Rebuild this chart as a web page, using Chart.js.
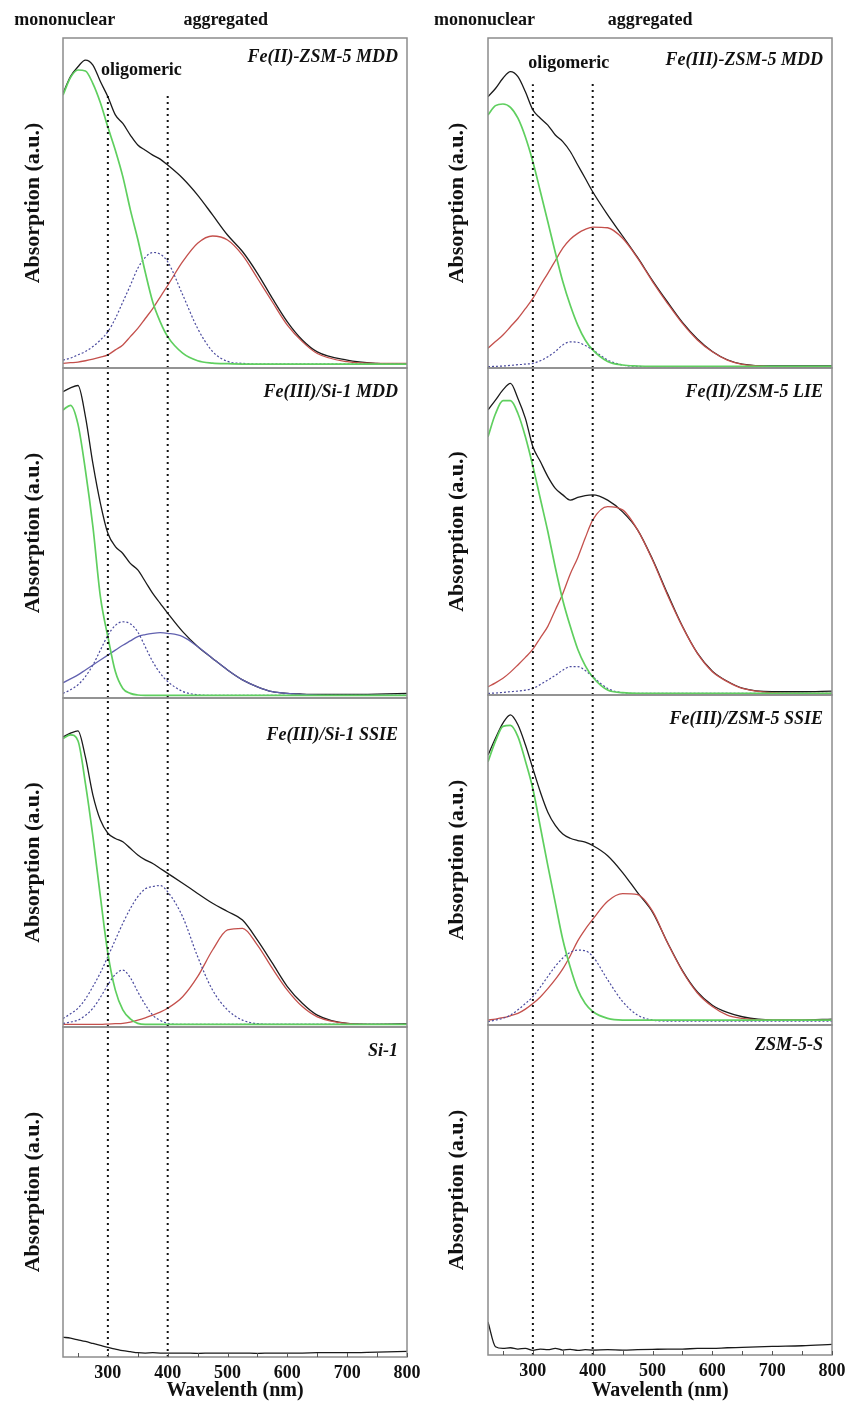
<!DOCTYPE html>
<html>
<head>
<meta charset="utf-8">
<script src="https://cdn.jsdelivr.net/npm/chart.js@4.4.0/dist/chart.umd.min.js"></script>
<style>
  html, body { margin: 0; padding: 0; background: #fff; }
  #wrap { position: relative; width: 848px; height: 1407px; }
  canvas { position: absolute; top: 0; pointer-events: none; }
</style>
</head>
<body>
<div id="wrap"></div>
<script>
// wavelength grid (nm) shared by every spectrum
const WL = [225, 237.5, 250, 262.5, 275, 287.5, 300, 312.5, 325, 337.5, 350, 362.5, 375, 387.5, 400,
            425, 450, 475, 500, 525, 550, 575, 600, 625, 650, 700, 750, 800];
const TICK_MARKS = [250, 300, 350, 400, 450, 500, 550, 600, 650, 700, 750, 800];
const GUIDES = [300, 400];

// Fe(II)-ZSM-5 MDD
const L1_BLACK = [.832,.883,.913,.933,.918,.868,.822,.767,.741,.706,.676,.66,.645,.633,.615,.575,.524,.464,.403,.353,.287,.211,.14,.085,.049,.024,.014,.011];
const L1_GREEN = [.827,.88,.903,.9,.862,.804,.73,.66,.58,.48,.39,.29,.2,.14,.095,.045,.022,.015,.013,.012,.012,.012,.012,.012,.012,.012,.012,.012];
const L1_BLUE  = [.024,.03,.04,.05,.065,.085,.11,.15,.2,.25,.302,.335,.35,.345,.322,.222,.12,.05,.02,.014,.012,.012,.012,.012,.012,.012,.012,.012];
const L1_RED   = [.014,.016,.018,.022,.027,.033,.04,.055,.07,.095,.12,.15,.18,.215,.25,.322,.378,.4,.388,.342,.272,.2,.13,.08,.044,.019,.014,.014];

// Fe(III)-ZSM-5 MDD
const R1_BLACK = [.822,.847,.878,.898,.883,.837,.782,.757,.736,.706,.686,.656,.615,.575,.534,.464,.40,.335,.265,.2,.138,.088,.05,.025,.012,.006,.006,.006];
const R1_GREEN = [.767,.795,.8,.79,.757,.7,.625,.535,.443,.35,.262,.19,.13,.085,.055,.02,.009,.006,.005,.005,.005,.005,.005,.005,.005,.005,.005,.005];
const R1_BLUE  = [.004,.005,.006,.008,.01,.012,.014,.022,.034,.05,.07,.079,.078,.068,.055,.024,.009,.005,.004,.004,.004,.004,.004,.004,.004,.004,.004,.004];
const R1_RED   = [.06,.08,.1,.125,.15,.18,.211,.25,.287,.325,.363,.39,.408,.42,.427,.425,.393,.333,.262,.196,.135,.085,.049,.024,.011,.004,.003,.003];

// Fe(III)/Si-1 MDD
const L2_BLACK = [.928,.94,.947,.853,.71,.59,.499,.459,.438,.408,.388,.353,.317,.287,.257,.201,.156,.12,.085,.055,.034,.019,.014,.012,.011,.011,.012,.014];
const L2_GREEN = [.873,.887,.83,.69,.519,.307,.186,.08,.029,.014,.009,.008,.008,.008,.008,.008,.008,.008,.008,.008,.008,.008,.008,.008,.008,.008,.008,.008];
const L2_BLUE_N = [.014,.025,.04,.065,.1,.145,.19,.22,.231,.225,.2,.155,.11,.075,.05,.02,.01,.008,.008,.008,.008,.008,.008,.008,.008,.008,.008,.008];
const L2_BLUE_B = [.046,.058,.07,.085,.1,.115,.13,.145,.16,.173,.186,.192,.196,.198,.196,.186,.156,.12,.085,.055,.034,.019,.014,.011,.009,.008,.008,.008];

// Fe(II)/ZSM-5 LIE
const R2_BLACK = [.872,.902,.933,.953,.907,.846,.759,.714,.668,.632,.612,.596,.604,.61,.612,.596,.56,.505,.415,.31,.21,.128,.073,.042,.021,.01,.01,.012];
const R2_GREEN = [.79,.86,.9,.9,.861,.79,.70,.6,.5,.39,.29,.21,.14,.09,.055,.015,.007,.005,.005,.005,.005,.005,.005,.005,.005,.005,.005,.005];
const R2_BLUE  = [.005,.006,.008,.01,.012,.015,.02,.032,.046,.06,.076,.087,.087,.075,.056,.02,.007,.005,.005,.005,.005,.005,.005,.005,.005,.005,.005,.005];
const R2_RED   = [.025,.037,.051,.07,.092,.115,.14,.175,.21,.26,.31,.37,.42,.48,.535,.576,.566,.505,.413,.306,.209,.127,.071,.041,.02,.007,.005,.005];

// Fe(III)/Si-1 SSIE
const L3_BLACK = [.882,.893,.9,.82,.705,.629,.589,.573,.563,.543,.523,.508,.497,.482,.467,.437,.406,.376,.351,.325,.264,.194,.123,.072,.036,.011,.008,.01];
const L3_GREEN = [.877,.888,.87,.74,.579,.396,.224,.112,.052,.025,.011,.008,.008,.008,.008,.008,.008,.008,.008,.008,.008,.008,.008,.008,.008,.008,.008,.008];
const L3_BLUE_L = [.026,.04,.057,.085,.123,.165,.214,.265,.315,.36,.396,.42,.427,.43,.411,.335,.214,.112,.052,.021,.01,.008,.008,.008,.008,.008,.008,.008];
const L3_BLUE_S = [.011,.015,.021,.035,.057,.09,.128,.16,.173,.15,.107,.068,.036,.02,.011,.008,.008,.008,.008,.008,.008,.008,.008,.008,.008,.008,.008,.008];
const L3_RED   = [.008,.008,.008,.008,.008,.008,.009,.01,.011,.015,.021,.028,.036,.045,.057,.092,.153,.234,.295,.3,.249,.178,.112,.062,.031,.011,.008,.008];

// Fe(III)/ZSM-5 SSIE
const R3_BLACK = [.818,.869,.915,.94,.91,.849,.777,.706,.645,.605,.579,.566,.559,.554,.544,.513,.462,.401,.342,.25,.165,.1,.06,.038,.025,.015,.015,.018];
const R3_GREEN = [.798,.86,.905,.908,.874,.8,.716,.6,.483,.37,.259,.175,.107,.065,.041,.02,.015,.015,.015,.015,.015,.015,.015,.015,.015,.015,.015,.015];
const R3_BLUE  = [.01,.015,.02,.03,.046,.065,.086,.115,.147,.178,.203,.22,.227,.225,.208,.137,.071,.03,.015,.012,.012,.012,.012,.012,.012,.012,.012,.012];
const R3_RED   = [.015,.018,.022,.028,.035,.048,.065,.085,.11,.138,.17,.21,.255,.29,.32,.375,.398,.395,.345,.249,.163,.097,.056,.03,.02,.015,.015,.015];

// Si-1 and ZSM-5-S (supports only)
const L4_BLACK = [.06,.057,.052,.047,.041,.035,.029,.024,.019,.016,.013,.012,.013,.012,.012,.012,.011,.012,.012,.012,.011,.012,.012,.012,.013,.013,.015,.017];
const R4_BLACK = [.10,.025,.02,.022,.018,.02,.014,.018,.016,.02,.015,.017,.014,.016,.015,.016,.015,.016,.017,.018,.018,.02,.02,.022,.023,.026,.028,.032];

const FONT = '"Liberation Serif", "DejaVu Serif", serif';
const H = 1407;

const STYLE = {
  black:   {borderColor: '#1a1a1a', borderWidth: 1.3},
  green:   {borderColor: '#5fcf5f', borderWidth: 1.7},
  red:     {borderColor: '#c4504c', borderWidth: 1.3},
  blueDot: {borderColor: '#4a4a9e', borderWidth: 1.2, borderDash: [2, 2]},
  blue:    {borderColor: '#6262b0', borderWidth: 1.3},
};

const COLS = [
  {left: 0, yWidth: 63, padRight: 17},
  {left: 424, yWidth: 64, padRight: 16},
];

const PANELS = [
  {col: 0, top: 38, bottom: 368, label: 'Fe(II)-ZSM-5 MDD', labelDy: 19, guideTop: [0.83, 0.835],
   series: [['green', L1_GREEN], ['blueDot', L1_BLUE], ['red', L1_RED], ['black', L1_BLACK]],
   notes: [{text: 'mononuclear', x: 228, y: 1.055}, {text: 'aggregated', x: 497, y: 1.055}, {text: 'oligomeric', x: 356, y: 0.903}]},
  {col: 0, top: 368, bottom: 698, label: 'Fe(III)/Si-1 MDD', labelDy: 24, guideTop: [1, 1],
   series: [['green', L2_GREEN], ['blueDot', L2_BLUE_N], ['blue', L2_BLUE_B], ['black', L2_BLACK]]},
  {col: 0, top: 698, bottom: 1027, label: 'Fe(III)/Si-1 SSIE', labelDy: 37, guideTop: [1, 1],
   series: [['green', L3_GREEN], ['blueDot', L3_BLUE_L], ['blueDot', L3_BLUE_S], ['red', L3_RED], ['black', L3_BLACK]]},
  {col: 0, top: 1027, bottom: 1357, label: 'Si-1', labelDy: 24, guideTop: [1, 1], showX: true,
   series: [['black', L4_BLACK]]},
  {col: 1, top: 38, bottom: 368, label: 'Fe(III)-ZSM-5 MDD', labelDy: 22, guideTop: [0.86, 0.865],
   series: [['green', R1_GREEN], ['blueDot', R1_BLUE], ['red', R1_RED], ['black', R1_BLACK]],
   notes: [{text: 'mononuclear', x: 219, y: 1.055}, {text: 'aggregated', x: 496, y: 1.055}, {text: 'oligomeric', x: 360, y: 0.924}]},
  {col: 1, top: 368, bottom: 695, label: 'Fe(II)/ZSM-5 LIE', labelDy: 24, guideTop: [1, 1],
   series: [['green', R2_GREEN], ['blueDot', R2_BLUE], ['red', R2_RED], ['black', R2_BLACK]]},
  {col: 1, top: 695, bottom: 1025, label: 'Fe(III)/ZSM-5 SSIE', labelDy: 24, guideTop: [1, 1],
   series: [['green', R3_GREEN], ['blueDot', R3_BLUE], ['red', R3_RED], ['black', R3_BLACK]]},
  {col: 1, top: 1025, bottom: 1355, label: 'ZSM-5-S', labelDy: 20, guideTop: [1, 1], showX: true,
   series: [['black', R4_BLACK]]},
];

// frame, tick marks, panel name and the band labels
const panelDecor = {
  id: 'panelDecor',
  afterDatasetsDraw(chart, args, opts) {
    const {ctx, chartArea: a, scales} = chart;
    ctx.save();
    ctx.strokeStyle = '#8c8c8c';
    ctx.lineWidth = 1.5;
    ctx.strokeRect(a.left, a.top, a.right - a.left, a.bottom - a.top);
    if (opts.showX) {
      ctx.strokeStyle = '#555';
      ctx.lineWidth = 1;
      TICK_MARKS.forEach(v => {
        const px = Math.round(scales.x.getPixelForValue(v)) + 0.5;
        ctx.beginPath();
        ctx.moveTo(px, a.bottom);
        ctx.lineTo(px, a.bottom - 4);
        ctx.stroke();
      });
    }
    ctx.fillStyle = '#111';
    ctx.font = 'italic bold 18px ' + FONT;
    ctx.textAlign = 'right';
    ctx.textBaseline = 'middle';
    ctx.fillText(opts.label, a.right - 9, a.top + opts.labelDy);
    ctx.font = 'bold 18px ' + FONT;
    ctx.textAlign = 'center';
    (opts.notes || []).forEach(n => {
      ctx.fillText(n.text, scales.x.getPixelForValue(n.x), scales.y.getPixelForValue(n.y));
    });
    ctx.restore();
  }
};

const wrap = document.getElementById('wrap');

PANELS.forEach(p => {
  const col = COLS[p.col];
  const canvas = document.createElement('canvas');
  canvas.width = 424;
  canvas.height = H;
  canvas.style.left = col.left + 'px';
  canvas.style.width = '424px';
  canvas.style.height = H + 'px';
  wrap.appendChild(canvas);

  const datasets = GUIDES.map((g, i) => ({
    data: [{x: g, y: 0}, {x: g, y: p.guideTop[i]}],
    borderColor: '#111',
    borderWidth: 2,
    borderDash: [2, 4],
    pointRadius: 0,
  }));
  p.series.forEach(([kind, values]) => {
    datasets.push(Object.assign({
      data: WL.map((w, i) => ({x: w, y: values[i]})),
      pointRadius: 0,
      fill: false,
      cubicInterpolationMode: 'monotone',
    }, STYLE[kind]));
  });

  new Chart(canvas, {
    type: 'line',
    data: {datasets},
    options: {
      responsive: false,
      animation: false,
      devicePixelRatio: 1,
      layout: {padding: {top: p.top, bottom: p.showX ? 0 : H - p.bottom, left: 0, right: col.padRight}},
      plugins: {
        legend: {display: false},
        tooltip: {enabled: false},
        panelDecor: {label: p.label, labelDy: p.labelDy, notes: p.notes, showX: !!p.showX},
      },
      scales: {
        x: {
          type: 'linear',
          min: 225,
          max: 800,
          display: !!p.showX,
          afterBuildTicks: s => { s.ticks = TICK_MARKS.map(v => ({value: v})); },
          afterFit: s => {
            if (!p.showX) return;
            s.height = H - p.bottom;
            s.paddingLeft = 0;
            s.paddingRight = 0;
          },
          grid: {display: false, drawTicks: false},
          border: {display: false},
          ticks: {
            color: '#111',
            padding: 6,
            maxRotation: 0,
            autoSkip: false,
            font: {family: FONT, size: 18, weight: 'bold'},
            callback: v => (v % 100 === 0 ? String(v) : ''),
          },
          title: {
            display: true,
            text: 'Wavelenth (nm)',
            color: '#111',
            font: {family: FONT, size: 20, weight: 'bold'},
            padding: {top: 0, bottom: 4},
          },
        },
        y: {
          min: 0,
          max: 1,
          afterFit: s => { s.width = col.yWidth; },
          grid: {display: false},
          border: {display: false},
          ticks: {display: false},
          title: {
            display: true,
            text: 'Absorption (a.u.)',
            color: '#111',
            font: {family: FONT, size: 22, weight: 'bold'},
            padding: {top: 20, bottom: 0},
          },
        },
      },
    },
    plugins: [panelDecor],
  });
});
</script>
</body>
</html>
